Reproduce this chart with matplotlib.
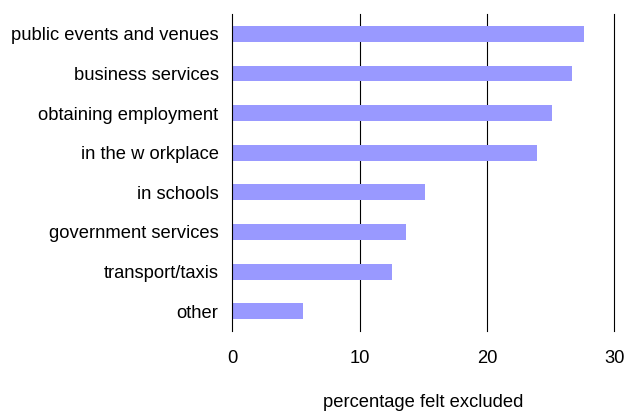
import matplotlib.pyplot as plt

# Percentage of respondents who felt excluded, by setting
categories = [
    "public events and venues",
    "business services",
    "obtaining employment",
    "in the w orkplace",
    "in schools",
    "government services",
    "transport/taxis",
    "other",
]
values = [27.6, 26.7, 25.1, 23.9, 15.1, 13.6, 12.5, 5.5]
x_ticks = [0, 10, 20, 30]

plt.rcParams["font.family"] = ["Liberation Sans", "DejaVu Sans"]
FS = 13.2

fig = plt.figure(figsize=(6.26, 4.11), dpi=100)
ax = fig.add_axes([0.3714, 0.1946, 0.6102, 0.7713])

pos = list(range(len(categories)))
ax.barh(pos, values, height=0.4, color="#9999FF", zorder=2)

ax.set_ylim(len(categories) - 0.5, -0.5)
ax.set_xlim(0, 30)
ax.set_yticks(pos)
ax.set_yticklabels(categories, fontsize=FS)
ax.set_xticks(x_ticks)
ax.set_xticklabels([str(t) for t in x_ticks], fontsize=FS)
ax.tick_params(axis="both", length=0)
ax.tick_params(axis="y", pad=10)
ax.tick_params(axis="x", pad=14)

# vertical gridlines (the one at 30 sits on the edge, so no clipping)
for t in x_ticks[1:]:
    ax.axvline(t, color="black", linewidth=0.8, zorder=1, clip_on=False)

for side in ["top", "right", "bottom"]:
    ax.spines[side].set_visible(False)
ax.spines["left"].set_color("black")
ax.spines["left"].set_linewidth(0.8)

ax.set_xlabel("percentage felt excluded", fontsize=FS)
ax.xaxis.set_label_coords(0.5, -0.224)
ax.xaxis.label.set_va("center")

fig.savefig("out.png", dpi=100)
